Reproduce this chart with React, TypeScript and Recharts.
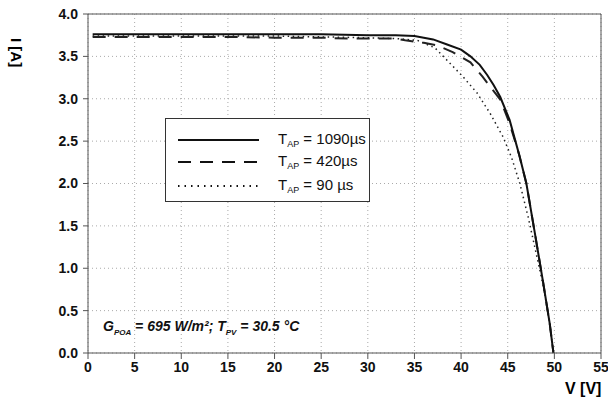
import React from "react";
import { LineChart, Line, XAxis, YAxis, CartesianGrid, ReferenceLine } from "recharts";

const xTicks = [0, 5, 10, 15, 20, 25, 30, 35, 40, 45, 50, 55];
const yTicks = [0, 0.5, 1, 1.5, 2, 2.5, 3, 3.5, 4];

const solidV = [0.5, 5, 10, 15, 20, 25, 30, 33, 35, 36, 37, 38.5, 40, 41, 42, 42.8, 43.5, 44.2, 45.2, 46.3, 47, 47.9, 48.8, 49.5, 49.9];
const solidI = [3.76, 3.76, 3.76, 3.76, 3.76, 3.76, 3.75, 3.75, 3.74, 3.72, 3.7, 3.64, 3.58, 3.5, 3.4, 3.28, 3.16, 3.02, 2.75, 2.31, 2.0, 1.42, 0.83, 0.35, 0];

const dashedV = [0.5, 5, 10, 15, 20, 25, 28, 30, 33, 34, 36, 37.4, 39.1, 41, 42.3, 43.2, 44.2, 45.2, 46.2, 47, 47.9, 48.8, 49.5, 49.9];
const dashedI = [3.73, 3.73, 3.73, 3.73, 3.72, 3.72, 3.71, 3.71, 3.71, 3.69, 3.66, 3.63, 3.55, 3.43, 3.26, 3.13, 2.99, 2.71, 2.35, 2.0, 1.42, 0.83, 0.35, 0];

const dottedV = [0.5, 5, 10, 15, 20, 25, 30, 33, 35.3, 37.2, 38.8, 40.2, 41.7, 43.1, 44.5, 45.4, 46.3, 47.2, 48, 48.8, 49.5, 49.9];
const dottedI = [3.74, 3.74, 3.74, 3.74, 3.74, 3.73, 3.72, 3.71, 3.69, 3.6, 3.42, 3.26, 3.07, 2.83, 2.55, 2.31, 2.0, 1.6, 1.2, 0.8, 0.35, 0];

const seriesLabels = ["1090µs", "420µs", "90 µs"];

const toData = (v: number[], i: number[]) => v.map((x, k) => ({ v: x, i: i[k] }));
const solidData = toData(solidV, solidI);
const dashedData = toData(dashedV, dashedI);
const dottedData = toData(dottedV, dottedI);

const FONT = "'Liberation Sans', Arial, sans-serif";

const LegendBox = () => {
  const styles = [
    { dash: undefined, w: 2 },
    { dash: "13 9", w: 2 },
    { dash: "1.5 5", w: 2 },
  ];
  return (
    <div style={{ position: "absolute", left: 165, top: 118, width: 205, height: 84, border: "1px solid #333", background: "#fff", boxSizing: "border-box", fontFamily: FONT }}>
      {seriesLabels.map((lab, k) => (
        <div key={k} style={{ position: "absolute", left: 0, top: [10, 32, 56][k], height: 22, width: 205 }}>
          <svg width={100} height={22} style={{ position: "absolute", left: 0, top: 0 }}>
            <line x1={12} x2={93} y1={11} y2={11} stroke="#111" strokeWidth={styles[k].w} strokeDasharray={styles[k].dash} />
          </svg>
          <div style={{ position: "absolute", left: 112, top: 1, fontSize: 15, color: "#111", whiteSpace: "nowrap" }}>
            T<sub style={{ fontSize: 9, verticalAlign: "-3px" }}>AP</sub> = {lab}
          </div>
        </div>
      ))}
    </div>
  );
};

export default function App() {
  return (
    <div style={{ position: "absolute", left: 0, top: 0, width: 608, height: 398, background: "#fff" }}>
      <LineChart width={608} height={398} margin={{ top: 14, right: 7, left: 50, bottom: 15 }}>
        <CartesianGrid stroke="#aaa" strokeDasharray="1 3" />
        <XAxis
          type="number"
          dataKey="v"
          domain={[0, 55]}
          ticks={xTicks}
          allowDataOverflow
          height={30}
          stroke="#555"
          tickSize={6}
          tick={{ fill: "#111", fontSize: 14, fontWeight: "bold", fontFamily: FONT }}
          tickMargin={3}
        />
        <YAxis
          type="number"
          dataKey="i"
          domain={[0, 4]}
          ticks={yTicks}
          width={38}
          stroke="#555"
          tickSize={5}
          tickFormatter={(t: number) => t.toFixed(1)}
          tick={{ fill: "#111", fontSize: 14, fontWeight: "bold", fontFamily: FONT }}
          tickMargin={5}
        />
        <ReferenceLine x={55} stroke="#555" />
        <ReferenceLine y={4} stroke="#555" />
        <Line data={dottedData} dataKey="i" stroke="#222" strokeWidth={1.5} strokeDasharray="1.5 3.5" dot={false} isAnimationActive={false} type="linear" />
        <Line data={dashedData} dataKey="i" stroke="#222" strokeWidth={2} strokeDasharray="13 9" dot={false} isAnimationActive={false} type="linear" />
        <Line data={solidData} dataKey="i" stroke="#111" strokeWidth={2} dot={false} isAnimationActive={false} type="linear" />
      </LineChart>
      <LegendBox />
      <div style={{ position: "absolute", top: 38, left: 25, fontFamily: FONT, fontWeight: "bold", fontSize: 15, transform: "rotate(90deg)", transformOrigin: "left top", whiteSpace: "nowrap" }}>
        I [A]
      </div>
      <div style={{ position: "absolute", left: 565, top: 380, fontFamily: FONT, fontWeight: "bold", fontSize: 16, whiteSpace: "nowrap" }}>
        V [V]
      </div>
      <div style={{ position: "absolute", left: 103, top: 318, fontFamily: FONT, fontWeight: "bold", fontStyle: "italic", fontSize: 14, whiteSpace: "nowrap", color: "#111" }}>
        G<sub style={{ fontSize: 8 }}>POA</sub> = 695 W/m²; T<sub style={{ fontSize: 8 }}>PV</sub> = 30.5 °C
      </div>
    </div>
  );
}
